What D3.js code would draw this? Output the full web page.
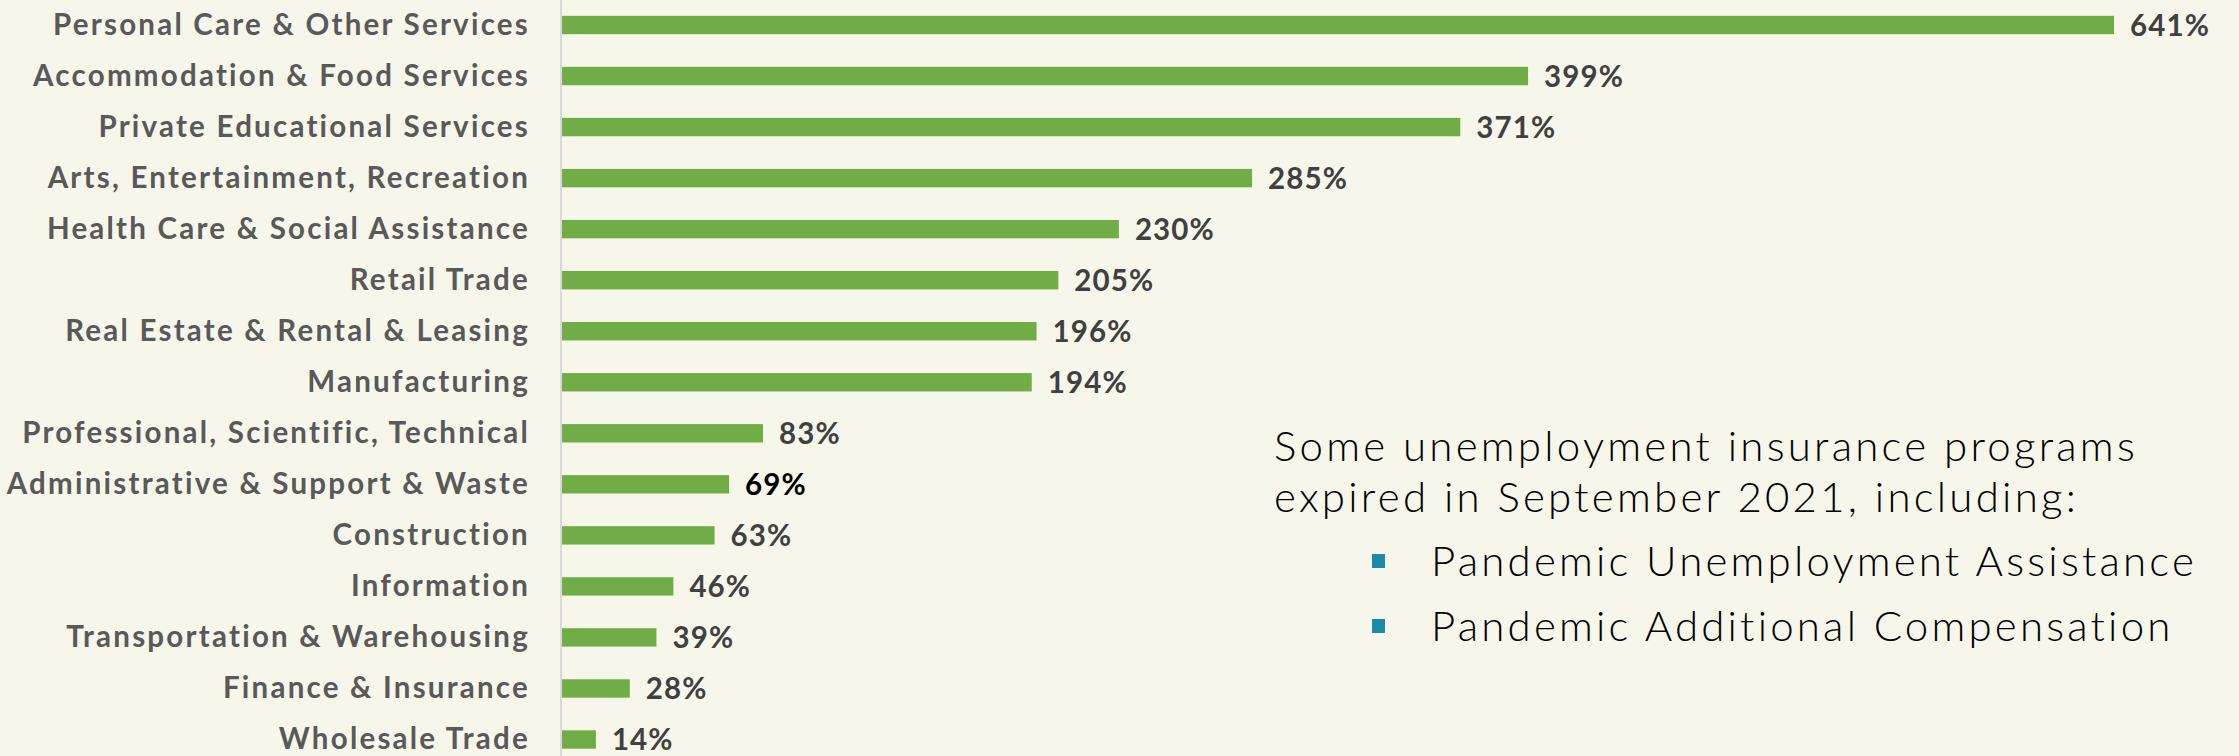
<!DOCTYPE html>
<html>
<head>
<meta charset="utf-8">
<script src="https://cdn.jsdelivr.net/npm/d3@7"></script>
<style>
  html, body { margin: 0; padding: 0; background: #f6f6ea; }
  svg { display: block; }
</style>
</head>
<body>
<svg id="chart" width="2239" height="756"></svg>
<script>
const categories = [
  "Personal Care & Other Services",
  "Accommodation & Food Services",
  "Private Educational Services",
  "Arts, Entertainment, Recreation",
  "Health Care & Social Assistance",
  "Retail Trade",
  "Real Estate & Rental & Leasing",
  "Manufacturing",
  "Professional, Scientific, Technical",
  "Administrative & Support & Waste",
  "Construction",
  "Information",
  "Transportation & Warehousing",
  "Finance & Insurance",
  "Wholesale Trade"
];
const values = [641, 399, 371, 285, 230, 205, 196, 194, 83, 69, 63, 46, 39, 28, 14];
const highlighted = ["Administrative & Support & Waste"];
const noteLines = [
  "Some unemployment insurance programs",
  "expired in September 2021, including:"
];
const noteBullets = [
  "Pandemic Unemployment Assistance",
  "Pandemic Additional Compensation"
];

const W = 2239, H = 756;
const svg = d3.select("#chart");
svg.append("rect").attr("width", W).attr("height", H).attr("fill", "#f6f6ea");

const axisX = 561;
const x = d3.scaleLinear().domain([0, 641]).range([axisX + 1, 2114]);
const y = d3.scaleBand().domain(categories).range([-0.5, 765])
  .paddingInner(0.64).paddingOuter(0.32);

// axis line
svg.append("line")
  .attr("x1", axisX).attr("x2", axisX)
  .attr("y1", 0).attr("y2", H)
  .attr("stroke", "#d9d9d9").attr("stroke-width", 2);

const data = categories.map((c, i) => ({ c, v: values[i] }));

svg.selectAll("rect.bar").data(data).enter().append("rect")
  .attr("class", "bar")
  .attr("x", x(0))
  .attr("y", d => y(d.c))
  .attr("width", d => x(d.v) - x(0))
  .attr("height", y.bandwidth())
  .attr("fill", "#70ad47");

const labelFont = "Lato, 'Open Sans', sans-serif";

// category labels
const catLabels = svg.selectAll("text.cat").data(data).enter().append("text")
  .attr("class", "cat")
  .attr("x", 530)
  .attr("y", d => y(d.c) + y.bandwidth() / 2 + 10)
  .attr("text-anchor", "end")
  .attr("font-family", labelFont)
  .attr("font-weight", 700)
  .attr("font-size", 29.5)
  .attr("fill", "#595959")
  .text(d => d.c);
(function () {
  const node = catLabels.nodes()[0];
  const w = node.getComputedTextLength();
  const ls = (477 - w) / (node.textContent.length);
  catLabels.attr("letter-spacing", ls);
})();

// value labels
const valLabels = svg.selectAll("text.val").data(data).enter().append("text")
  .attr("class", "val")
  .attr("x", d => x(d.v) + 16)
  .attr("y", d => y(d.c) + y.bandwidth() / 2 + 10.5)
  .attr("font-family", labelFont)
  .attr("font-weight", 700)
  .attr("font-size", 29.5)
  .attr("fill", d => highlighted.includes(d.c) ? "#000000" : "#404040")
  .text(d => d.v + "%");
(function () {
  const node = valLabels.nodes()[0];
  const w = node.getComputedTextLength();
  valLabels.attr("letter-spacing", Math.max(0, (80 - w) / 4));
})();

// annotation
const noteFont = "Lato, 'Open Sans', sans-serif";
const noteBase = [461, 512];
const notes = svg.selectAll("text.note").data(noteLines).enter().append("text")
  .attr("class", "note")
  .attr("x", 1274)
  .attr("y", (d, i) => noteBase[i])
  .attr("font-family", noteFont)
  .attr("font-weight", 300)
  .attr("font-size", 42)
  .attr("fill", "#000000")
  .text(d => d);
(function () {
  const node = notes.nodes()[0];
  const w = node.getComputedTextLength();
  notes.attr("letter-spacing", (864 - w) / node.textContent.length);
})();

const bulletBase = [576, 641];
svg.selectAll("rect.bullet").data(noteBullets).enter().append("rect")
  .attr("class", "bullet")
  .attr("x", 1372)
  .attr("y", (d, i) => bulletBase[i] - 22)
  .attr("width", 13).attr("height", 14)
  .attr("fill", "#1b8ba9");
const bul = svg.selectAll("text.bul").data(noteBullets).enter().append("text")
  .attr("class", "bul")
  .attr("x", 1431)
  .attr("y", (d, i) => bulletBase[i])
  .attr("font-family", noteFont)
  .attr("font-weight", 300)
  .attr("font-size", 42)
  .attr("fill", "#000000")
  .text(d => d);
(function () {
  const node = bul.nodes()[0];
  const w = node.getComputedTextLength();
  bul.attr("letter-spacing", (766 - w) / node.textContent.length);
})();
</script>
</body>
</html>
